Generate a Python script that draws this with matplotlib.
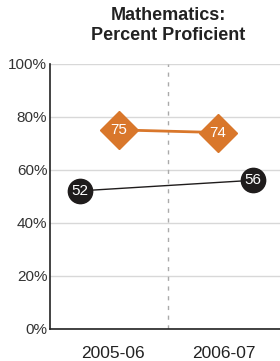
import matplotlib.pyplot as plt

years = ["2005-06", "2006-07"]
school = [75, 74]
district = [52, 56]

plt.rcParams['font.family'] = ['Liberation Sans', 'DejaVu Sans']

fig = plt.figure(figsize=(2.8, 3.61), dpi=100)
ax = fig.add_axes([0.179, 0.089, 0.843, 0.735])

orange = "#d9772b"
dark = "#1f1c1c"

# school series sits inward, district series outward of each year
xs_school = [0.08, 0.92]
xs_district = [-0.25, 1.22]

ax.plot(xs_school, school, color=orange, lw=2, zorder=3)
ax.plot(xs_school, school, 'D', color=orange, ms=19.5, zorder=4)
ax.plot(xs_district, district, color=dark, lw=1, zorder=3)
ax.plot(xs_district, district, 'o', color=dark, ms=17.5, zorder=4)
for x, v in zip(xs_school, school):
    ax.text(x, v, str(v), color="white", ha="center", va="center", fontsize=11, zorder=5)
for x, v in zip(xs_district, district):
    ax.text(x, v, str(v), color="white", ha="center", va="center", fontsize=11, zorder=5)

ax.axvline(0.5, color="#aaaaaa", ls=(0, (3, 4)), lw=1)

ax.set_xlim(-0.5, 1.5)
ax.set_ylim(0, 100)
ax.set_yticks(range(0, 101, 20))
ax.set_yticklabels([f"{t}%" for t in range(0, 101, 20)], fontsize=11, color="#333333")
ax.yaxis.grid(True, color="#d8d8d8", lw=1)
ax.set_axisbelow(True)
ax.tick_params(axis="y", length=0, pad=2)
ax.set_xticks([0.03, 0.97])
ax.set_xticklabels(years, fontsize=12.5, color="#222222")
ax.tick_params(axis="x", length=0, pad=12)

for s in ["top", "right"]:
    ax.spines[s].set_visible(False)
ax.spines["left"].set_color("#222222")
ax.spines["bottom"].set_color("#222222")
ax.spines["left"].set_linewidth(1.2)
ax.spines["bottom"].set_linewidth(1.2)

fig.text(0.6, 0.98, "Mathematics:\nPercent Proficient", ha="center", va="top",
         fontsize=13, fontweight="bold", color="#222222", linespacing=1.25)

fig.savefig("out.png", dpi=100)
